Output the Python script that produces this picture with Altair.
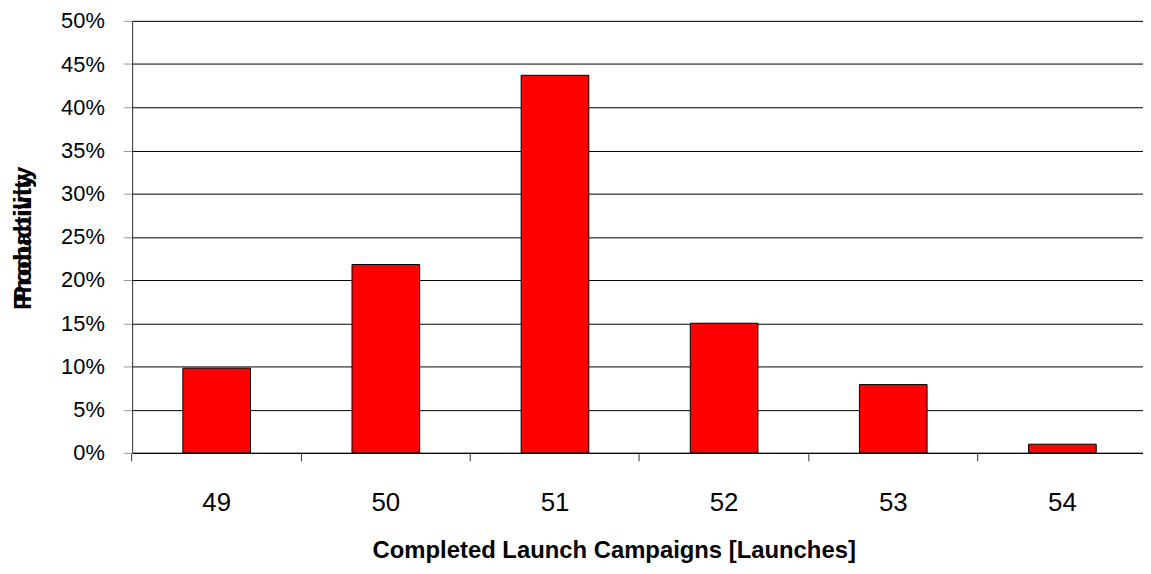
import altair as alt
import pandas as pd

categories = ["49", "50", "51", "52", "53", "54"]
probabilities = [0.098, 0.218, 0.437, 0.150, 0.079, 0.010]
y_ticks = [0.0, 0.05, 0.10, 0.15, 0.20, 0.25, 0.30, 0.35, 0.40, 0.45, 0.50]
x_title = "Completed Launch Campaigns [Launches]"
y_titles = ["Probability", "Productivity"]

df = pd.DataFrame({"launches": categories, "prob": probabilities})
title_df = pd.DataFrame({"t": y_titles})

FONT = "Liberation Sans"
xscale = alt.Scale(paddingInner=0.6, paddingOuter=0.3, range=[0, 1022])
yscale = alt.Scale(domain=[0, 0.5], nice=False)

bars = alt.Chart(df).mark_bar(color="#FF0000", stroke="#000000", strokeWidth=1).encode(
    x=alt.X("launches:N", scale=xscale, sort=categories,
            axis=alt.Axis(title=x_title, labelAngle=0, ticks=False, tickSize=0,
                          orient="bottom",
                          domain=True, domainColor="#000000", domainWidth=1,
                          labelFontSize=26, labelPadding=37, labelColor="#000000",
                          labelFont=FONT, titleFont=FONT, titleFontSize=24,
                          titleFontWeight="bold", titleColor="#000000",
                          titleX=485, titleY=98, titleBaseline="middle",
                          titleAlign="center")),
    y=alt.Y("prob:Q", scale=yscale,
            axis=alt.Axis(values=y_ticks, format=".0%", grid=True, gridColor="#000000",
                          gridWidth=1, gridOpacity=1, tickSize=9, tickColor="#999999",
                          labelPadding=19, labelFontSize=22, labelFont=FONT,
                          labelColor="#000000", domainColor="#333333", title=None)),
)

tick_layer = alt.Chart(df).mark_bar(opacity=0).encode(
    x=alt.X("launches:N", scale=xscale, sort=categories,
            axis=alt.Axis(orient="bottom", labels=False, title=None, domain=False,
                          ticks=True, tickSize=8, tickColor="#333333",
                          bandPosition=-0.75, grid=False)),
)

ytitle = alt.Chart(title_df).mark_text(
    angle=270, fontSize=25, fontWeight="bold", font=FONT, color="#000000",
    align="center", baseline="middle"
).encode(
    text="t:N",
    x=alt.value(-110),
    y=alt.value(219),
)

chart = alt.layer(bars, tick_layer, ytitle).resolve_axis(x="independent").properties(
    width=1018, height=435,
    autosize=alt.AutoSizeParams(type="none"),
    padding={"left": 125, "top": 11, "right": 0, "bottom": 112},
).configure_view(stroke=None).configure(background="#ffffff")

chart.save("out.html", embed_options={"renderer": "svg", "actions": False})
